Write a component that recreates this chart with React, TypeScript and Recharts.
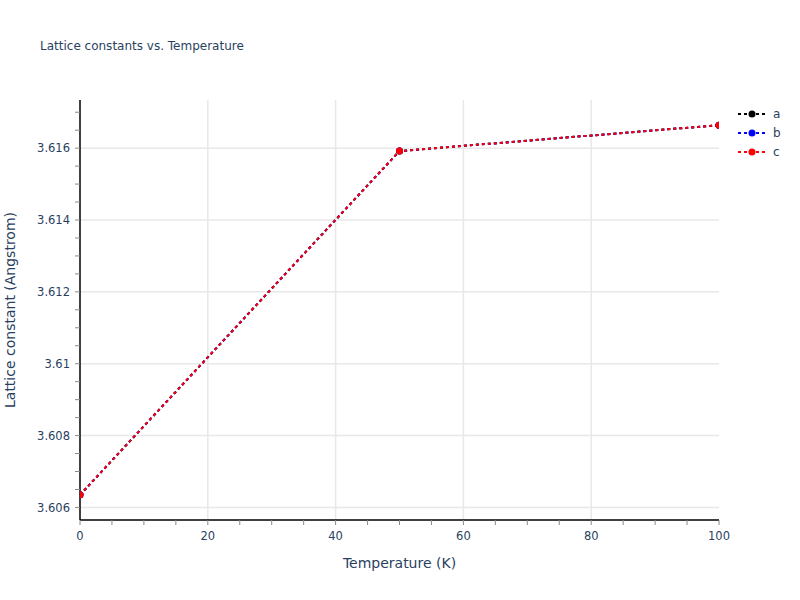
import React from 'react';
import { LineChart, Line, XAxis, YAxis, CartesianGrid } from 'recharts';

const temperatures = [0, 50, 100];
const seriesA = [3.60635, 3.61592, 3.61664];
const seriesB = [3.60635, 3.61592, 3.61664];
const seriesC = [3.60635, 3.61592, 3.61664];

const xTicks = [0, 5, 10, 15, 20, 25, 30, 35, 40, 45, 50, 55, 60, 65, 70, 75, 80, 85, 90, 95, 100];
const xMajor = [0, 20, 40, 60, 80, 100];
const yTicks = [3.606, 3.6065, 3.607, 3.6075, 3.608, 3.6085, 3.609, 3.6095, 3.61, 3.6105, 3.611, 3.6115, 3.612, 3.6125, 3.613, 3.6135, 3.614, 3.6145, 3.615, 3.6155, 3.616, 3.6165, 3.617];
const yMajor = [3.606, 3.608, 3.61, 3.612, 3.614, 3.616];

const seriesNames = ['a', 'b', 'c'];
const seriesColors = ['#000000', '#0000ff', '#ff0000'];

const data = temperatures.map((t, i) => ({ t, a: seriesA[i], b: seriesB[i], c: seriesC[i] }));

const TEXT = '#2a3f5f';
const FONT = '"DejaVu Sans", Verdana, sans-serif';

const isMajor = (v: number, majors: number[]) => majors.some((m) => Math.abs(m - v) < 1e-9);

const YTick = (props: any) => {
  const { x, y, payload } = props;
  if (!isMajor(payload.value, yMajor)) return null;
  const label = String(parseFloat(payload.value.toFixed(3)));
  return (
    <text x={x} y={y} dy={4.2} textAnchor="end" fill={TEXT} fontSize={11.5} fontFamily={FONT}>
      {label}
    </text>
  );
};

const XTick = (props: any) => {
  const { x, y, payload } = props;
  if (!isMajor(payload.value, xMajor)) return null;
  return (
    <text x={x} y={y} dy={11} textAnchor="middle" fill={TEXT} fontSize={11.5} fontFamily={FONT}>
      {payload.value}
    </text>
  );
};

export default function App() {
  return (
    <div style={{ position: 'absolute', left: 0, top: 0, width: 800, height: 600, background: '#fff' }}>
      <LineChart width={800} height={600} data={data} margin={{ top: 100, right: 81, bottom: 0, left: 0 }}>
        <CartesianGrid
          stroke="#e8e8e8"
          strokeWidth={1.5}
          horizontalValues={yMajor}
          verticalValues={[20, 40, 60, 80]}
        />
        <XAxis
          dataKey="t"
          type="number"
          domain={[0, 100]}
          ticks={xTicks}
          interval={0}
          allowDataOverflow
          height={80}
          axisLine={{ stroke: '#000', strokeWidth: 1.5 }}
          tickLine={{ stroke: '#888' }}
          tickSize={5}
          tickMargin={4}
          tick={<XTick />}
          label={{ value: 'Temperature (K)', position: 'insideTop', offset: 38, fill: TEXT, fontSize: 14, fontFamily: FONT }}
        />
        <YAxis
          type="number"
          domain={[3.60565, 3.61734]}
          ticks={yTicks}
          interval={0}
          allowDataOverflow
          width={80}
          axisLine={{ stroke: '#000', strokeWidth: 1.5 }}
          tickLine={{ stroke: '#888' }}
          tickSize={5}
          tickMargin={5}
          tick={<YTick />}
        />
        {seriesNames.map((n, i) => (
          <Line
            key={n}
            dataKey={n}
            stroke={seriesColors[i]}
            strokeWidth={2}
            strokeDasharray="3 3"
            dot={{ r: 3.5, fill: seriesColors[i], stroke: seriesColors[i], strokeWidth: 0 }}
            activeDot={false}
            isAnimationActive={false}
          />
        ))}
      </LineChart>
      <svg width={800} height={600} style={{ position: 'absolute', left: 0, top: 0, pointerEvents: 'none' }}>
        <text x={40} y={50} fill={TEXT} fontSize={12} fontFamily={FONT}>
          Lattice constants vs. Temperature
        </text>
        <text
          x={15}
          y={310}
          transform="rotate(-90 15 310)"
          textAnchor="middle"
          fill={TEXT}
          fontSize={14}
          fontFamily={FONT}
        >
          Lattice constant (Angstrom)
        </text>
        {seriesNames.map((n, i) => (
          <g key={n} transform={`translate(0, ${114 + i * 19})`}>
            <line x1={738} y1={0} x2={766} y2={0} stroke={seriesColors[i]} strokeWidth={2} strokeDasharray="3 3" />
            <circle cx={752} cy={0} r={3.5} fill={seriesColors[i]} />
            <text x={773} y={4} fill={TEXT} fontSize={12} fontFamily={FONT}>
              {n}
            </text>
          </g>
        ))}
      </svg>
    </div>
  );
}
